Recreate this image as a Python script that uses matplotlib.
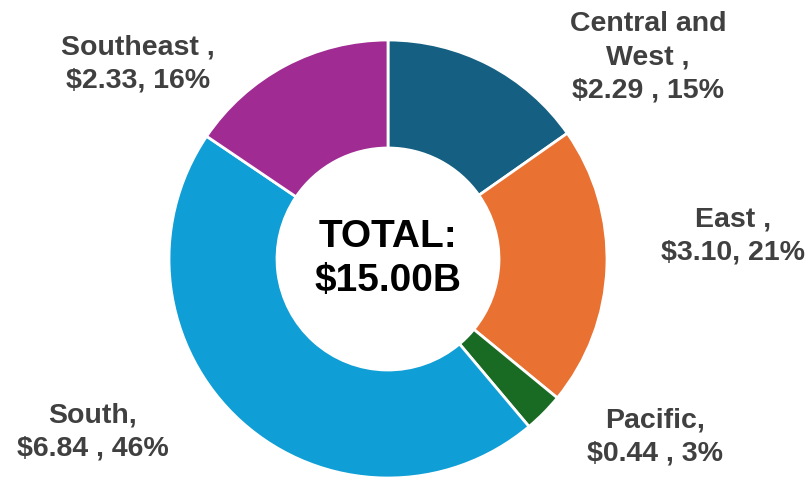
import matplotlib
matplotlib.use("Agg")
import matplotlib.pyplot as plt

# --- Data ---
regions = ["Central and West", "East", "Pacific", "South", "Southeast"]
values = [2.29, 3.10, 0.44, 6.84, 2.33]
colors = ["#156082", "#E97132", "#196B24", "#0F9ED5", "#A02B93"]
label_lines = [
    ["Central and", "West ,", "$2.29 , 15%"],
    ["East ,", "$3.10, 21%"],
    ["Pacific,", "$0.44 , 3%"],
    ["South,", "$6.84 , 46%"],
    ["Southeast ,", "$2.33, 16%"],
]
total_text = "TOTAL:\n$15.00B"

# label centres in pixel coords (x, y from top)
label_pos = [(648, 57), (733, 236), (655, 437), (93, 432), (138, 64)]

W, H = 805, 479
fig = plt.figure(figsize=(W / 100, H / 100), dpi=100)
ax = fig.add_axes([0, 0, 1, 1])

cx, cy = 388, H - 259
r_out, r_in = 219, 111

ax.pie(values, colors=colors, startangle=90, counterclock=False,
       radius=r_out, center=(cx, cy), frame=True,
       wedgeprops=dict(width=r_out - r_in, edgecolor="white", linewidth=2))
ax.set_xlim(0, W)
ax.set_ylim(0, H)
ax.set_aspect("equal")
ax.axis("off")

font = "Liberation Sans"
ax.text(cx, cy, total_text, ha="center", va="center", fontsize=28,
        fontweight="bold", family=font, color="black", linespacing=1.3)

for lines, (x, y) in zip(label_lines, label_pos):
    ax.text(x, H - y, "\n".join(lines), ha="center", va="center",
            fontsize=20.5, fontweight="bold", family=font, color="#404040",
            linespacing=1.35)

fig.savefig("out.png", dpi=100)
